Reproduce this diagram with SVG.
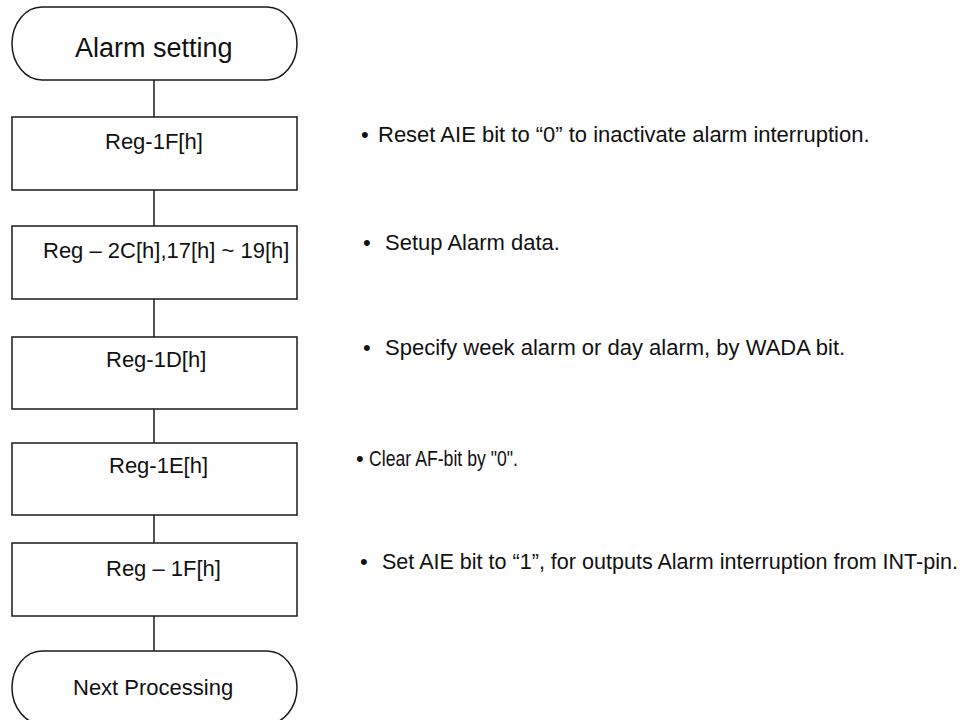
<svg xmlns="http://www.w3.org/2000/svg" width="979" height="720" viewBox="0 0 979 720">
<style>
.sh{fill:#fff;stroke:#1a1a1a;stroke-width:1.5}
.ln{stroke:#1a1a1a;stroke-width:1.5;fill:none}
text{font-family:"Liberation Sans",Arial,sans-serif;fill:#111;font-size:22px}
</style>
<rect width="979" height="720" fill="#fff"/>
<g id="connectors">
<line class="ln" x1="154" y1="80" x2="154" y2="117"/>
<line class="ln" x1="154" y1="190" x2="154" y2="226"/>
<line class="ln" x1="154" y1="299" x2="154" y2="337"/>
<line class="ln" x1="154" y1="409" x2="154" y2="443"/>
<line class="ln" x1="154" y1="515" x2="154" y2="543"/>
<line class="ln" x1="154" y1="616" x2="154" y2="651"/>
</g>
<g id="start">
<path class="sh" d="M42,7 H267 A30,36.5 0 0 1 267,80 H42 A30,36.5 0 0 1 42,7 Z"/>
<text x="75" y="57" style="font-size:27px">Alarm setting</text>
</g>
<g id="step1">
<rect class="sh" x="12" y="117" width="285" height="73"/>
<text x="105" y="149">Reg-1F[h]</text>
</g>
<g id="step2">
<rect class="sh" x="12" y="226" width="285" height="73"/>
<text x="43" y="258">Reg – 2C[h],17[h] ~ 19[h]</text>
</g>
<g id="step3">
<rect class="sh" x="12" y="337" width="285" height="72"/>
<text x="106" y="367">Reg-1D[h]</text>
</g>
<g id="step4">
<rect class="sh" x="12" y="443" width="285" height="72"/>
<text x="109" y="473">Reg-1E[h]</text>
</g>
<g id="step5">
<rect class="sh" x="12" y="543" width="285" height="73"/>
<text x="106" y="576">Reg – 1F[h]</text>
</g>
<g id="end">
<path class="sh" d="M42,651 H267 A30,36.5 0 0 1 267,724 H42 A30,36.5 0 0 1 42,651 Z"/>
<text x="73" y="695">Next Processing</text>
</g>
<g id="notes">
<text y="142"><tspan x="361">•</tspan><tspan x="378">Reset AIE bit to “0” to inactivate alarm interruption.</tspan></text>
<text y="250"><tspan x="363">•</tspan><tspan x="385">Setup Alarm data.</tspan></text>
<text y="355"><tspan x="363">•</tspan><tspan x="385">Specify week alarm or day alarm, by WADA bit.</tspan></text>
<text y="466"><tspan x="356">•</tspan><tspan x="369" textLength="149" lengthAdjust="spacingAndGlyphs">Clear AF-bit by "0".</tspan></text>
<text y="569"><tspan x="360">•</tspan><tspan x="382" textLength="576" lengthAdjust="spacingAndGlyphs">Set AIE bit to “1”, for outputs Alarm interruption from INT-pin.</tspan></text>
</g>
</svg>
